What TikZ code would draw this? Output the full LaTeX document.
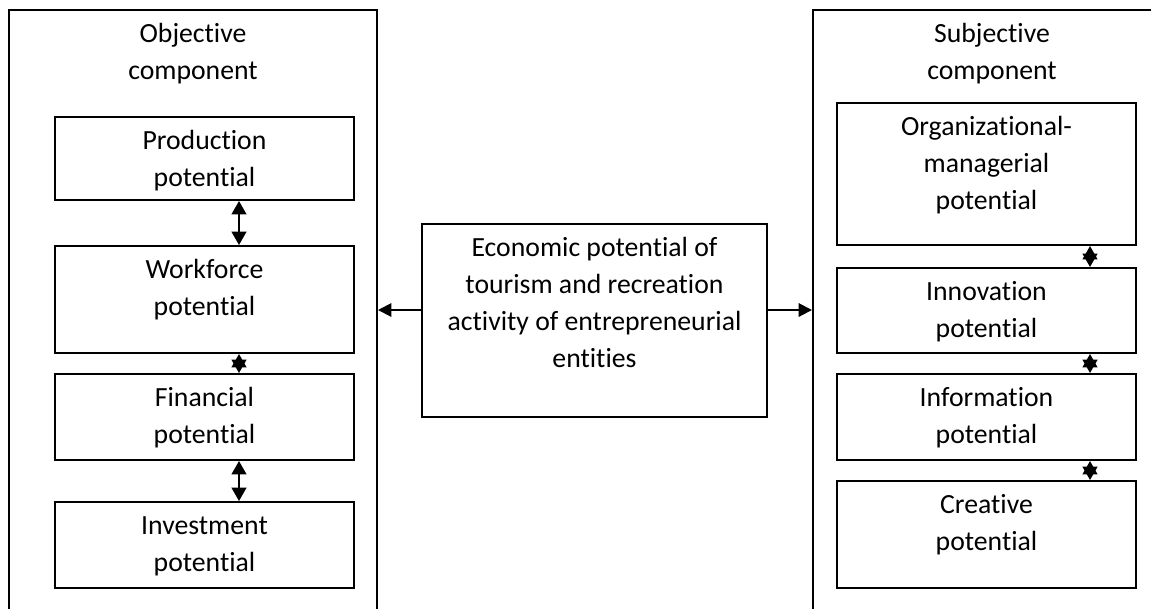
\documentclass[tikz,border=0pt]{standalone}
\usepackage{fontspec}
\setmainfont{Carlito}[Ligatures=NoCommon]
\usetikzlibrary{arrows.meta,calc,fit,positioning}

\begin{document}
\begin{tikzpicture}[
		x=0.75pt, y=-0.75pt,
		box/.style={draw, inner sep=0pt, line width=1.5pt},
		txt/.style={align=flush center, text width=260pt, inner sep=0pt, anchor=base, font=\fontsize{20.8}{27.75}\selectfont},
		dbl/.style={line width=1.5pt, {Triangle[length=10pt,width=11pt]}-{Triangle[length=10pt,width=11pt]}},
		sgl/.style={line width=1.5pt, -{Triangle[length=10pt,width=10pt]}}]

	\useasboundingbox (0,0) rectangle (1151,608);

	% the two components
	\node[box, fit={(9,10) (377,630)}] (objbox) {};
	\node[box, fit={(813,10) (1171,630)}] (subjbox) {};
	\node[txt] (objtxt) at ($(objbox.north)+(0,33)$) {Objective\\component};
	\node[txt] (subjtxt) at ($(subjbox.north)+(0,33)$) {Subjective\\component};

	% objective side
	\node[box, fit={(55,117) (354,200)}] (prod) {};
	\node[box, fit={(55,246) (354,353)}] (work) {};
	\node[box, fit={(55,374) (354,460)}] (fin) {};
	\node[box, fit={(55,502) (354,588)}] (inv) {};
	\node[txt] (prodtxt) at ($(prod.north)+(0,33)$) {Production\\potential};
	\node[txt] (worktxt) at ($(work.north)+(0,33)$) {Workforce\\potential};
	\node[txt] (fintxt) at ($(fin.north)+(0,33)$) {Financial\\potential};
	\node[txt] (invtxt) at ($(inv.north)+(0,33)$) {Investment\\potential};

	% subjective side
	\node[box, fit={(837,103) (1136,245)}] (org) {};
	\node[box, fit={(837,268) (1136,353)}] (inno) {};
	\node[box, fit={(837,374) (1136,460)}] (info) {};
	\node[box, fit={(837,481) (1136,588)}] (cre) {};
	\node[txt] (orgtxt) at ($(org.north)+(0,33)$) {Organizational-\\managerial\\potential};
	\node[txt] (innotxt) at ($(inno.north)+(0,33)$) {Innovation\\potential};
	\node[txt] (infotxt) at ($(info.north)+(0,33)$) {Information\\potential};
	\node[txt] (cretxt) at ($(cre.north)+(0,33)$) {Creative\\potential};

	% centre
	\node[box, fit={(422,224) (767,417)}] (econ) {};
	\node[txt] (econtxt) at ($(econ.north)+(0,33)$) {Economic potential of\\tourism and recreation\\activity of entrepreneurial\\entities};

	\coordinate (aL) at ($(econ.west)+(0,-10.5)$);
	\coordinate (aR) at ($(econ.east)+(0,-10.5)$);

	\draw[dbl] ($(prod.south)+(34.5,0)$) -- ($(work.north)+(34.5,0)$);
	\draw[dbl] ($(work.south)+(34.5,0)$) -- ($(fin.north)+(34.5,0)$);
	\draw[dbl] ($(fin.south)+(34.5,0)$) -- ($(inv.north)+(34.5,0)$);

	\draw[dbl] ($(org.south)+(103.5,0)$) -- ($(inno.north)+(103.5,0)$);
	\draw[dbl] ($(inno.south)+(103.5,0)$) -- ($(info.north)+(103.5,0)$);
	\draw[dbl] ($(info.south)+(103.5,0)$) -- ($(cre.north)+(103.5,0)$);

	\draw[sgl] (aL) -- (aL -| objbox.east);
	\draw[sgl] (aR) -- (aR -| subjbox.west);
\end{tikzpicture}
\end{document}
